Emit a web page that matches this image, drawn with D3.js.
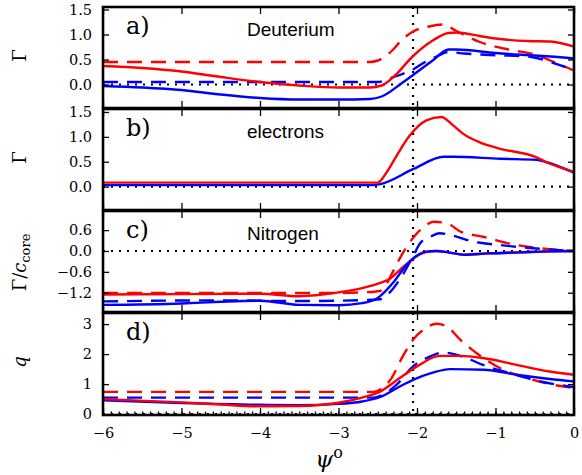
<!DOCTYPE html>
<html>
<head>
<meta charset="utf-8">
<script src="https://cdn.jsdelivr.net/npm/d3@7"></script>
<style>
  body { margin: 0; background: #fff; }
  svg { display: block; }
</style>
</head>
<body>
<div id="chart"></div>
<script>
// psi (degrees) vs value
const aRedSolid = [[-6,0.37],[-5.5,0.33],[-5,0.26],[-4.5,0.15],[-4,0.05],[-3.5,-0.02],[-3,-0.06],[-2.6,-0.06],[-2.45,-0.02],[-2.3,0.15],[-2.05,0.57],[-1.8,0.88],[-1.6,1.03],[-1.5,1.04],[-1.2,0.97],[-1,0.92],[-0.6,0.87],[-0.3,0.86],[0,0.76]];
const aBlueSolid = [[-6,-0.03],[-5.5,-0.06],[-5,-0.11],[-4.5,-0.2],[-4,-0.27],[-3.5,-0.3],[-3,-0.3],[-2.6,-0.29],[-2.45,-0.24],[-2.2,0.02],[-2.05,0.19],[-1.8,0.48],[-1.6,0.7],[-1.5,0.7],[-1,0.63],[-0.5,0.58],[-0.3,0.56],[0,0.52]];
const aRedDashed = [[-6,0.45],[-2.6,0.45],[-2.5,0.48],[-2.31,0.69],[-2.2,0.88],[-2.05,1.06],[-1.85,1.16],[-1.67,1.2],[-1.5,1.07],[-1.2,0.85],[-0.8,0.69],[-0.5,0.6],[-0.3,0.48],[-0.15,0.38],[0,0.28]];
const aBlueDashed = [[-6,0.05],[-2.5,0.05],[-2.35,0.12],[-2.22,0.19],[-2.05,0.3],[-1.92,0.43],[-1.75,0.56],[-1.6,0.65],[-1.4,0.62],[-1.07,0.59],[-0.6,0.56],[-0.45,0.52],[-0.3,0.45],[-0.15,0.37],[0,0.29]];

const bRed = [[-6,0.08],[-2.5,0.08],[-2.47,0.11],[-2.39,0.28],[-2.26,0.62],[-2.09,1.03],[-1.88,1.33],[-1.69,1.4],[-1.54,1.23],[-1.41,1.06],[-1.2,0.89],[-0.94,0.76],[-0.48,0.59],[-0.35,0.49],[0,0.3]];
const bBlue = [[-6,0.03],[-2.58,0.03],[-2.47,0.05],[-2.05,0.35],[-1.66,0.6],[-1.54,0.6],[-0.94,0.56],[-0.48,0.54],[-0.35,0.49],[0,0.28]];

const cRedSolid = [[-6,-1.25],[-5,-1.24],[-4,-1.23],[-3.5,-1.3],[-3,-1.19],[-2.7,-1.07],[-2.47,-0.92],[-2.34,-0.79],[-2.22,-0.55],[-2.05,-0.22],[-1.9,-0.04],[-1.75,0.0],[-1.6,-0.04],[-1.4,-0.11],[-1.1,-0.07],[-0.7,-0.04],[-0.3,-0.01],[0,0]];
const cBlueSolid = [[-6,-1.55],[-5,-1.51],[-4.5,-1.46],[-4,-1.43],[-3.5,-1.55],[-3,-1.56],[-2.7,-1.5],[-2.5,-1.35],[-2.3,-0.9],[-2.15,-0.45],[-2.0,-0.13],[-1.88,-0.02],[-1.75,0.0],[-1.6,-0.04],[-1.4,-0.11],[-1.1,-0.07],[-0.7,-0.04],[-0.3,-0.01],[0,0]];
const cRedDashed = [[-6,-1.21],[-3,-1.21],[-2.7,-1.19],[-2.47,-1.15],[-2.4,-1.0],[-2.34,-0.74],[-2.17,-0.02],[-2.0,0.51],[-1.88,0.75],[-1.79,0.84],[-1.62,0.8],[-1.45,0.56],[-1.16,0.41],[-0.73,0.17],[-0.3,0.05],[0,0]];
const cBlueDashed = [[-6,-1.45],[-4.5,-1.42],[-3.5,-1.44],[-3,-1.43],[-2.47,-1.39],[-2.35,-1.2],[-2.2,-0.75],[-2.05,-0.15],[-1.96,0.22],[-1.85,0.38],[-1.71,0.51],[-1.58,0.46],[-1.28,0.27],[-0.94,0.17],[-0.52,0.08],[0,0]];

const dRedSolid = [[-6,0.5],[-5,0.39],[-4.5,0.32],[-4,0.26],[-3.5,0.27],[-3,0.38],[-2.7,0.55],[-2.47,0.75],[-2.22,1.2],[-2.0,1.59],[-1.71,1.94],[-1.45,1.94],[-1.16,1.87],[-0.73,1.64],[-0.31,1.42],[0,1.31]];
const dBlueSolid = [[-6,0.46],[-5,0.37],[-4,0.31],[-3.5,0.3],[-3,0.34],[-2.7,0.42],[-2.47,0.57],[-2.22,0.92],[-2.05,1.14],[-1.8,1.38],[-1.58,1.5],[-1.15,1.48],[-0.73,1.31],[-0.31,1.17],[0,1.09]];
const dRedDashed = [[-6,0.74],[-2.55,0.74],[-2.45,0.85],[-2.34,1.14],[-2.17,1.98],[-2.05,2.48],[-1.92,2.81],[-1.75,3.01],[-1.62,2.92],[-1.45,2.48],[-1.24,2.03],[-0.94,1.53],[-0.52,1.14],[-0.25,0.97],[0,0.87]];
const dBlueDashed = [[-6,0.55],[-2.55,0.55],[-2.4,0.7],[-2.26,0.98],[-2.05,1.59],[-1.85,1.9],[-1.67,2.05],[-1.37,1.87],[-1.16,1.64],[-0.82,1.37],[-0.43,1.09],[0,0.9]];

const xTicks = [-6, -5, -4, -3, -2, -1, 0];
const gammaTicks = [0, 0.5, 1.0, 1.5];
const nitrogenTicks = [-1.2, -0.6, 0, 0.6];
const qTicks = [0, 1, 2, 3];
const separatrix = -2.05;

const svgWidth = 582, svgHeight = 475;
const left = 103, right = 574;

const svg = d3.select('#chart')
  .append('svg')
  .attr('width', svgWidth)
  .attr('height', svgHeight);

const x = d3.scaleLinear().domain([-6, 0]).range([left, right]);

const panels = [
  { top: 7, bottom: 108, domain: [-0.47, 1.55], ticks: gammaTicks, fmt: d3.format('.1f'),
    tag: 'a)', name: 'Deuterium', ylab: 'gamma',
    series: [
      { data: aRedDashed, color: 'red', dash: true },
      { data: aBlueDashed, color: 'blue', dash: true },
      { data: aRedSolid, color: 'red' },
      { data: aBlueSolid, color: 'blue' }
    ] },
  { top: 109, bottom: 210, domain: [-0.47, 1.56], ticks: gammaTicks, fmt: d3.format('.1f'),
    tag: 'b)', name: 'electrons', ylab: 'gamma',
    series: [
      { data: bBlue, color: 'blue' },
      { data: bRed, color: 'red' }
    ] },
  { top: 211, bottom: 312, domain: [-1.755, 1.15], ticks: nitrogenTicks, fmt: d3.format('.1f'),
    tag: 'c)', name: 'Nitrogen', ylab: 'gcore',
    series: [
      { data: cRedDashed, color: 'red', dash: true },
      { data: cBlueDashed, color: 'blue', dash: true },
      { data: cRedSolid, color: 'red' },
      { data: cBlueSolid, color: 'blue' }
    ] },
  { top: 313, bottom: 415, domain: [-0.03, 3.37], ticks: qTicks, fmt: d3.format('d'),
    tag: 'd)', name: '', ylab: 'q',
    series: [
      { data: dRedDashed, color: 'red', dash: true },
      { data: dBlueDashed, color: 'blue', dash: true },
      { data: dBlueSolid, color: 'blue' },
      { data: dRedSolid, color: 'red' }
    ] }
];

const serif = 'DejaVu Serif, Liberation Serif, serif';

panels.forEach((p, i) => {
  const y = d3.scaleLinear().domain(p.domain).range([p.bottom, p.top]);
  const g = svg.append('g');

  g.append('clipPath').attr('id', 'clip' + i)
    .append('rect')
    .attr('x', left).attr('y', p.top)
    .attr('width', right - left).attr('height', p.bottom - p.top);

  // dotted reference lines
  g.append('line')
    .attr('x1', left).attr('x2', right)
    .attr('y1', y(0)).attr('y2', y(0))
    .attr('stroke', 'black').attr('stroke-width', 2.2)
    .attr('stroke-dasharray', '2,6');
  g.append('line')
    .attr('x1', x(separatrix)).attr('x2', x(separatrix))
    .attr('y1', p.top).attr('y2', p.bottom)
    .attr('stroke', 'black').attr('stroke-width', 2.2)
    .attr('stroke-dasharray', '2,6');

  const line = d3.line()
    .x(d => x(d[0]))
    .y(d => y(d[1]))
    .curve(d3.curveMonotoneX);

  g.append('g').attr('clip-path', `url(#clip${i})`)
    .selectAll('path')
    .data(p.series)
    .enter()
    .append('path')
    .attr('d', s => line(s.data))
    .attr('fill', 'none')
    .attr('stroke', s => s.color)
    .attr('stroke-width', 2.4)
    .attr('stroke-dasharray', s => s.dash ? '15,9' : null);

  // axes, ticks pointing inward
  const yl = g.append('g')
    .attr('transform', `translate(${left},0)`)
    .call(d3.axisLeft(y).tickValues(p.ticks).tickSizeInner(-6).tickSizeOuter(0)
      .tickPadding(11).tickFormat(p.fmt));
  yl.attr('font-family', serif).attr('font-size', 14.5);

  g.append('g')
    .attr('transform', `translate(${right},0)`)
    .call(d3.axisRight(y).tickValues(p.ticks).tickSizeInner(-6).tickSizeOuter(0).tickFormat(''));

  g.append('g')
    .attr('transform', `translate(0,${p.top})`)
    .call(d3.axisTop(x).tickValues(xTicks).tickSizeInner(-7).tickSizeOuter(0).tickFormat(''));

  const xb = g.append('g')
    .attr('transform', `translate(0,${p.bottom})`)
    .call(d3.axisBottom(x).tickValues(xTicks).tickSizeInner(-7).tickSizeOuter(0)
      .tickPadding(13).tickFormat(i === 3 ? d3.format('d') : ''));
  xb.attr('font-family', serif).attr('font-size', 14.5);

  if (i === 3) {
    g.append('g')
      .attr('transform', `translate(0,${p.bottom})`)
      .call(d3.axisBottom(x).tickValues(d3.range(-59, 0).map(v => v / 10)).tickSizeInner(-3.5)
        .tickSizeOuter(0).tickFormat(''));
  }

  g.selectAll('.domain').remove();
  g.selectAll('.tick line').attr('stroke', 'black').attr('stroke-width', 1.3);
  g.selectAll('.tick text').attr('fill', 'black');

  g.append('rect')
    .attr('x', left).attr('y', p.top)
    .attr('width', right - left).attr('height', p.bottom - p.top)
    .attr('fill', 'none')
    .attr('stroke', 'black')
    .attr('stroke-width', 2.6);

  g.append('text')
    .attr('x', 126).attr('y', p.top + 27)
    .attr('font-family', serif).attr('font-size', 24)
    .text(p.tag);

  if (p.name) {
    g.append('text')
      .attr('x', 247).attr('y', p.top + 29)
      .attr('font-family', 'Liberation Sans, Arial, sans-serif').attr('font-size', 19)
      .text(p.name);
  }

  // y label, rotated
  const cy = (p.top + p.bottom) / 2 + (i === 2 ? 1 : -2);
  const lab = g.append('text')
    .attr('transform', `translate(26,${cy}) rotate(-90)`)
    .attr('text-anchor', 'middle')
    .attr('font-family', serif).attr('font-size', 18);
  if (p.ylab === 'gamma') {
    lab.text('Γ');
  } else if (p.ylab === 'gcore') {
    lab.append('tspan').text('Γ/');
    lab.append('tspan').attr('font-style', 'italic').text('c');
    lab.append('tspan').attr('font-size', 13).attr('dy', 4).text('core');
  } else {
    lab.attr('font-style', 'italic').text('q');
  }
});

// x label
const xl = svg.append('text')
  .attr('x', 329).attr('y', 467)
  .attr('text-anchor', 'middle')
  .attr('font-family', serif).attr('font-size', 23);
xl.append('tspan').attr('font-style', 'italic').text('ψ');
xl.append('tspan').attr('font-size', 16).attr('dy', -9).text('o');
</script>
</body>
</html>
